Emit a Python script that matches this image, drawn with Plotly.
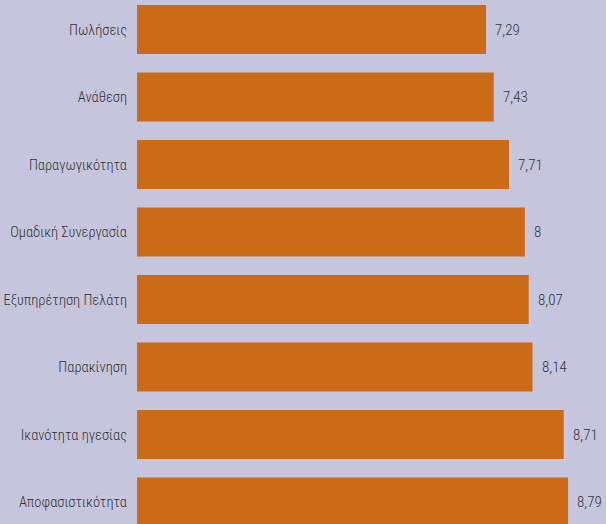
import plotly.graph_objects as go

categories = ["Πωλήσεις", "Ανάθεση", "Παραγωγικότητα", "Ομαδική Συνεργασία",
              "Εξυπηρέτηση Πελάτη", "Παρακίνηση", "Ικανότητα ηγεσίας", "Αποφασιστικότητα"]
values = [7.29, 7.43, 7.71, 8.0, 8.07, 8.14, 8.71, 8.79]

BG = "#c5c6dd"
BAR = "#cb6b17"
TXT = "#333333"
FONT = "Roboto Condensed, Liberation Sans Narrow, sans-serif"

fig = go.Figure(go.Bar(
    y=categories, x=values, orientation="h",
    marker=dict(color=BAR, line=dict(width=0)),
    hoverinfo="skip",
))

for c, v in zip(categories, values):
    fig.add_annotation(x=v, y=c, text=f"{v:g}".replace(".", ","),
                       xanchor="left", yanchor="middle", xshift=7,
                       showarrow=False, font=dict(family=FONT, size=15, color=TXT, weight=300))

fig.update_layout(
    width=606, height=524,
    margin=dict(l=137, r=0, t=0, b=0, autoexpand=False),
    paper_bgcolor=BG, plot_bgcolor=BG,
    bargap=0.274,
    showlegend=False,
    separators=",.",
    xaxis=dict(range=[0.905, 9.484], showgrid=False, zeroline=False,
               showticklabels=False, showline=False, ticks="", automargin=False),
    yaxis=dict(range=[7.326, -0.437], showgrid=False, zeroline=False,
               showline=False, ticks="", ticklabelstandoff=9, automargin=False,
               tickfont=dict(family=FONT, size=14.5, color=TXT, weight=300)),
)

fig.write_html("out.html", config={"displayModeBar": False},
               post_script="document.body.style.margin='0';document.body.style.overflow='hidden';"
                           "document.body.style.background='" + BG + "';")
